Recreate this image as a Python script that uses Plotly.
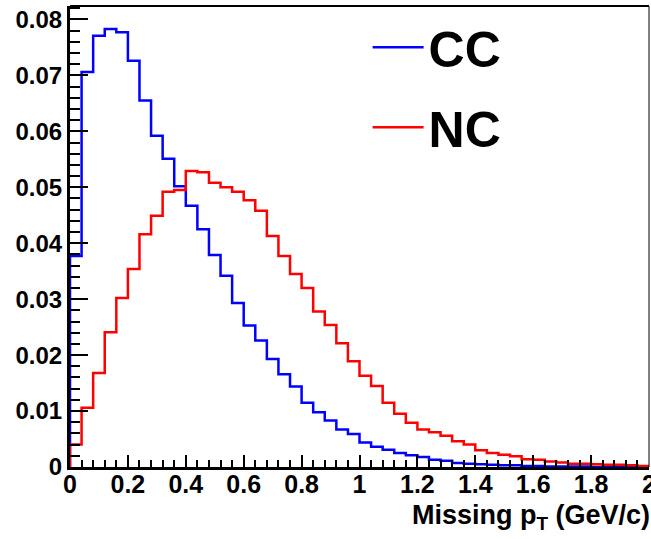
import numpy as np
import plotly.graph_objects as go

# 50 bins of width 0.04 GeV/c from 0 to 2
bin_edges = [round(0.04 * i, 2) for i in range(51)]

cc_values = [0.0377, 0.0706, 0.0771, 0.0783, 0.0777, 0.0726, 0.0655, 0.0592, 0.0551, 0.0502,
             0.0467, 0.0425, 0.0379, 0.0342, 0.0293, 0.0253, 0.0226, 0.0193, 0.0166, 0.0144,
             0.0115, 0.0098, 0.0083, 0.0067, 0.0059, 0.0044, 0.0036, 0.0031, 0.0025, 0.0021,
             0.0018, 0.0013, 0.0011, 0.0007, 0.0006, 0.0005, 0.0004, 0.0003, 0.0003, 0.0002,
             0.0002, 0.0001, 0.0001, 0.0001, 0.0001, 0.0, 0.0, 0.0, 0.0, 0.0]

nc_values = [0.0040, 0.0106, 0.0168, 0.0241, 0.0302, 0.0354, 0.0416, 0.0449, 0.0492, 0.0495,
             0.0529, 0.0527, 0.0508, 0.0500, 0.0492, 0.0477, 0.0458, 0.0413, 0.0377, 0.0345,
             0.0320, 0.0278, 0.0254, 0.0221, 0.0189, 0.0163, 0.0145, 0.0115, 0.0095, 0.0079,
             0.0067, 0.0062, 0.0056, 0.0046, 0.0040, 0.0030, 0.0025, 0.0022, 0.0019, 0.0014,
             0.0013, 0.0010, 0.0008, 0.0006, 0.0006, 0.0005, 0.0004, 0.0004, 0.0003, 0.0002]

series_names = ["CC", "NC"]
series_colors = ["#0000ff", "#ff0000"]

x_tick_vals = [0, 0.2, 0.4, 0.6, 0.8, 1.0, 1.2, 1.4, 1.6, 1.8, 2.0]
x_tick_text = ["0", "0.2", "0.4", "0.6", "0.8", "1", "1.2", "1.4", "1.6", "1.8", "2"]
y_tick_vals = [0, 0.01, 0.02, 0.03, 0.04, 0.05, 0.06, 0.07, 0.08]
y_tick_text = ["0", "0.01", "0.02", "0.03", "0.04", "0.05", "0.06", "0.07", "0.08"]


def step_xy(edges, values):
    xs = [edges[0]] + list(edges[:-1]) + [edges[-1]]
    ys = [0.0] + list(values) + [values[-1]]
    return xs, ys


fig = go.Figure()
for name, vals, col in zip(series_names, [cc_values, nc_values], series_colors):
    xs, ys = step_xy(bin_edges, vals)
    fig.add_trace(go.Scatter(x=xs, y=ys, mode="lines", line=dict(shape="hv", color=col, width=2.5),
                             name=name, legendgroup=name))

font_family = "Liberation Sans, Arial, sans-serif"

fig.update_layout(
    width=651, height=539,
    margin=dict(l=70, r=2, t=6, b=72),
    paper_bgcolor="white", plot_bgcolor="white",
    showlegend=True,
    legend=dict(x=0.514, y=0.995, xanchor="left", yanchor="top",
                font=dict(family=font_family, size=50, color="black", weight="bold"),
                itemwidth=51, tracegroupgap=12, bgcolor="rgba(0,0,0,0)", borderwidth=0),
    xaxis=dict(range=[0, 2], showgrid=False, zeroline=False, showline=True, linecolor="black", linewidth=3,
               automargin=False, ticklabeloverflow="allow", ticklabelstandoff=-7,
               ticks="inside", ticklen=12, tickwidth=2, tickcolor="black",
               tickvals=x_tick_vals, ticktext=x_tick_text,
               tickfont=dict(family=font_family, size=25, color="black", weight="bold"),
               minor=dict(dtick=0.04, ticks="inside", ticklen=7, tickwidth=2, tickcolor="black")),
    yaxis=dict(range=[0, 0.0824], showgrid=False, zeroline=False, showline=True, linecolor="black", linewidth=3,
               automargin=False,
               ticks="inside", ticklen=18, tickwidth=2, tickcolor="black",
               tickvals=y_tick_vals, ticktext=y_tick_text, ticklabelstandoff=0,
               tickfont=dict(family=font_family, size=24, color="black", weight="bold"),
               minor=dict(dtick=0.002, ticks="inside", ticklen=10, tickwidth=2, tickcolor="black")),
    shapes=[
        dict(type="line", xref="paper", yref="paper", x0=0, x1=1, y0=1, y1=1, line=dict(color="black", width=2)),
        dict(type="line", xref="paper", yref="paper", x0=1, x1=1, y0=0, y1=1, line=dict(color="black", width=1)),
    ],
    annotations=[
        dict(text="Missing p<sub>T</sub> (GeV/c)", xref="paper", yref="paper", x=1.005, y=-0.108,
             xanchor="right", yanchor="middle", showarrow=False,
             font=dict(family=font_family, size=27, color="black", weight="bold")),
    ],
)

fig.write_html("out.html", config={"displayModeBar": False},
               post_script="document.body.style.margin='0px';document.body.style.overflow='hidden';")
